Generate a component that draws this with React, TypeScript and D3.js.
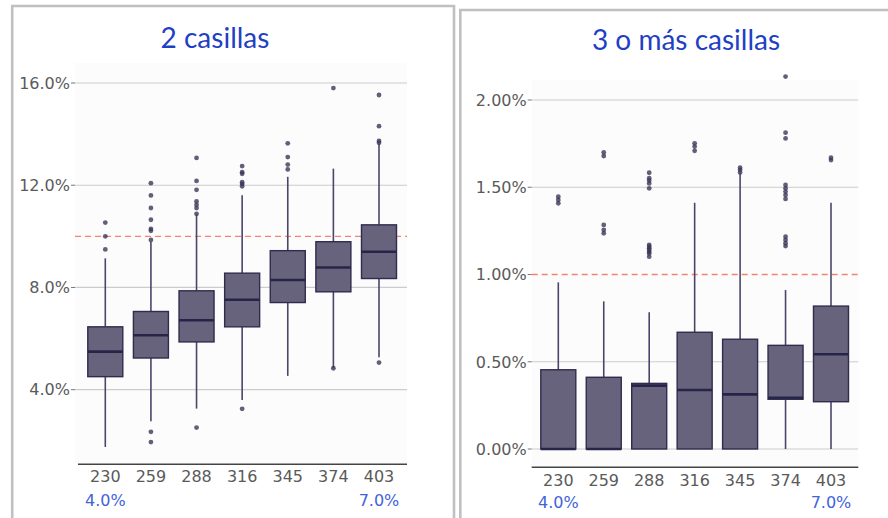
import React from "react";
import * as d3 from "d3";

const categories = ["230", "259", "288", "316", "345", "374", "403"];
const bottomLabels = ["4.0%", "7.0%"];

// Panel 1: 2 casillas (values in %)
const p1Title = "2 casillas";
const p1Ticks = [4, 8, 12, 16];
const p1Q1 = [4.51, 5.24, 5.87, 6.46, 7.41, 7.83, 8.35];
const p1Median = [5.49, 6.13, 6.72, 7.52, 8.29, 8.78, 9.4];
const p1Q3 = [6.46, 7.06, 7.87, 8.56, 9.44, 9.79, 10.45];
const p1Low = [1.76, 2.77, 3.26, 3.6, 4.54, 4.84, 5.27];
const p1High = [9.14, 9.78, 10.86, 11.61, 12.33, 12.65, 13.6];
const p1Outliers = [
  [10.54, 10.0, 9.49],
  [12.08, 11.6, 11.11, 10.65, 10.29, 10.22, 9.86, 2.35, 1.95],
  [13.07, 12.17, 11.82, 11.37, 11.24, 11.11, 10.88, 2.52],
  [12.75, 12.51, 12.45, 12.12, 12.05, 11.96, 3.25],
  [13.64, 13.1, 12.81, 12.62],
  [15.8, 4.84],
  [15.53, 14.31, 13.73, 13.66, 5.06],
];
const p1Ref = 10;

// Panel 2: 3 o más casillas (values in %)
const p2Title = "3 o más casillas";
const p2Ticks = [0, 0.5, 1, 1.5, 2];
const p2Q1 = [0, 0, 0, 0, 0, 0.285, 0.271];
const p2Median = [0, 0, 0.363, 0.338, 0.313, 0.294, 0.543];
const p2Q3 = [0.454, 0.411, 0.376, 0.669, 0.629, 0.594, 0.819];
const p2Low = [0, 0, 0, 0, 0, 0, 0];
const p2High = [0.955, 0.846, 0.783, 1.411, 1.58, 0.911, 1.411];
const p2Outliers = [
  [1.446, 1.427, 1.408],
  [1.7, 1.679, 1.284, 1.255, 1.236],
  [1.583, 1.552, 1.538, 1.522, 1.494, 1.169, 1.159, 1.15, 1.14, 1.13, 1.121, 1.102],
  [1.752, 1.733, 1.709],
  [1.612, 1.6, 1.585],
  [2.134, 1.813, 1.78, 1.513, 1.494, 1.475, 1.456, 1.433, 1.217, 1.198, 1.179, 1.163],
  [1.669, 1.656],
];
const p2Ref = 1;

const FILL = "#67637c";
const STROKE = "#2f2c4e";
const GRID = "#cccccc";
const TICK_COLOR = "#5a5a5a";
const TITLE_COLOR = "#1f3fc4";
const BLUE = "#3f63dc";

type PanelProps = {
  title: string;
  titleX: number;
  titleY: number;
  ticks: number[];
  fmt: (v: number) => string;
  yDomain: [number, number];
  yRange: [number, number];
  xRange: [number, number];
  gridX: [number, number];
  axisY: number;
  axisX0: number;
  q1: number[];
  med: number[];
  q3: number[];
  lo: number[];
  hi: number[];
  outliers: number[][];
  refV: number;
  tickLabelY: number;
  blueY: number;
};

function Panel(p: PanelProps) {
  const y = d3.scaleLinear().domain(p.yDomain).range(p.yRange);
  const x = d3.scalePoint<string>().domain(categories).range(p.xRange);
  const bw = 35;
  return (
    <g>
      <rect
        x={p.gridX[0]}
        y={p.yRange[1] - 20}
        width={p.gridX[1] - p.gridX[0]}
        height={p.axisY - p.yRange[1] + 20}
        fill="#fcfcfc"
      />
      <text
        x={p.titleX}
        y={p.titleY}
        textAnchor="middle"
        fontFamily="Lato"
        fontSize={28}
        fill={TITLE_COLOR}
      >
        {p.title}
      </text>
      {p.ticks.map((t) => (
        <g key={t}>
          {t !== p.refV && (
            <line x1={p.gridX[0]} x2={p.gridX[1]} y1={y(t)} y2={y(t)} stroke={GRID} strokeWidth={1.2} />
          )}
          <line x1={p.gridX[0] - 4} x2={p.gridX[0]} y1={y(t)} y2={y(t)} stroke="#777" strokeWidth={1} />
          <text
            x={p.gridX[0] - 5}
            y={y(t)}
            dy="0.36em"
            textAnchor="end"
            fontFamily="DejaVu Sans"
            fontSize={16}
            fill={TICK_COLOR}
          >
            {p.fmt(t)}
          </text>
        </g>
      ))}
      <line
        x1={p.gridX[0]}
        x2={p.gridX[1]}
        y1={y(p.refV)}
        y2={y(p.refV)}
        stroke="#f4846e"
        strokeWidth={1.4}
        strokeDasharray="6,4"
      />
      {categories.map((c, i) => {
        const cx = x(c) as number;
        return (
          <g key={c}>
            <line x1={cx} x2={cx} y1={y(p.hi[i])} y2={y(p.q3[i])} stroke="#4a4668" strokeWidth={1.6} />
            <line x1={cx} x2={cx} y1={y(p.q1[i])} y2={y(p.lo[i])} stroke="#4a4668" strokeWidth={1.6} />
            <rect
              x={cx - bw / 2}
              y={y(p.q3[i])}
              width={bw}
              height={Math.max(0.5, y(p.q1[i]) - y(p.q3[i]))}
              fill={FILL}
              stroke={STROKE}
              strokeWidth={1.4}
            />
            <line
              x1={cx - bw / 2}
              x2={cx + bw / 2}
              y1={y(p.med[i])}
              y2={y(p.med[i])}
              stroke="#27244a"
              strokeWidth={2.6}
            />
            {p.outliers[i].map((o, j) => (
              <circle key={j} cx={cx} cy={y(o)} r={2.4} fill="#3a3759" fillOpacity={0.8} />
            ))}
          </g>
        );
      })}
      <line x1={p.axisX0} x2={p.gridX[1]} y1={p.axisY} y2={p.axisY} stroke="#444" strokeWidth={1.6} />
      {categories.map((c) => (
        <text
          key={c}
          x={x(c) as number}
          y={p.tickLabelY}
          dy="0.36em"
          textAnchor="middle"
          fontFamily="DejaVu Sans"
          fontSize={16}
          fill={TICK_COLOR}
        >
          {c}
        </text>
      ))}
      <text
        x={x(categories[0]) as number}
        y={p.blueY}
        dy="0.36em"
        textAnchor="middle"
        fontFamily="DejaVu Sans"
        fontSize={16}
        fill={BLUE}
      >
        {bottomLabels[0]}
      </text>
      <text
        x={x(categories[categories.length - 1]) as number}
        y={p.blueY}
        dy="0.36em"
        textAnchor="middle"
        fontFamily="DejaVu Sans"
        fontSize={16}
        fill={BLUE}
      >
        {bottomLabels[1]}
      </text>
    </g>
  );
}

export default function App() {
  return (
    <svg
      width={888}
      height={518}
      style={{ position: "absolute", left: 0, top: 0, background: "#ffffff" }}
    >
      <rect x={0} y={0} width={888} height={518} fill="#ffffff" />
      <Panel
        title={p1Title}
        titleX={215}
        titleY={47.7}
        ticks={p1Ticks}
        fmt={(v) => v.toFixed(1) + "%"}
        yDomain={[4, 16]}
        yRange={[389.7, 83]}
        xRange={[105.3, 379]}
        gridX={[75, 407]}
        axisY={464.3}
        axisX0={78}
        q1={p1Q1}
        med={p1Median}
        q3={p1Q3}
        lo={p1Low}
        hi={p1High}
        outliers={p1Outliers}
        refV={p1Ref}
        tickLabelY={476}
        blueY={500}
      />
      <Panel
        title={p2Title}
        titleX={686}
        titleY={50}
        ticks={p2Ticks}
        fmt={(v) => v.toFixed(2) + "%"}
        yDomain={[0, 2]}
        yRange={[449, 100]}
        xRange={[558.3, 831]}
        gridX={[531.7, 858.3]}
        axisY={467.3}
        axisX0={531.7}
        q1={p2Q1}
        med={p2Median}
        q3={p2Q3}
        lo={p2Low}
        hi={p2High}
        outliers={p2Outliers}
        refV={p2Ref}
        tickLabelY={480}
        blueY={502.7}
      />
      <path d="M12.2,520 L12.2,6 L454,6 L454,520" fill="none" stroke="#c0c0c0" strokeWidth={2.6} />
      <path d="M460.3,520 L460.3,10 L890,10" fill="none" stroke="#c0c0c0" strokeWidth={2.6} />
    </svg>
  );
}
